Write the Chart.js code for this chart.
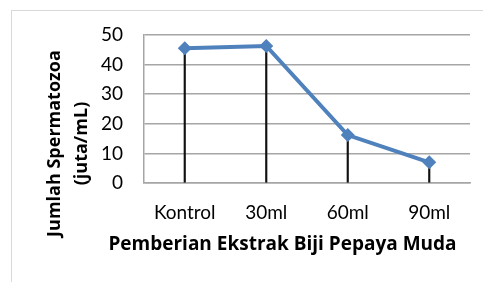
<!DOCTYPE html>
<html>
<head>
<meta charset="utf-8">
<script src="https://cdn.jsdelivr.net/npm/chart.js@4"></script>
<style>
  html, body { margin: 0; padding: 0; background: #fff; }
  #wrap { position: relative; width: 483px; height: 282px; overflow: hidden; }
  #frame { position: absolute; left: 11px; top: 10px; width: 600px; height: 400px;
           border-left: 1px solid #d9d9d9; border-top: 1px solid #d9d9d9; }
  #c { position: absolute; left: 0; top: 0; }
</style>
</head>
<body>
<div id="wrap">
  <div id="frame"></div>
  <canvas id="c" width="483" height="282"></canvas>
</div>
<script>
// Data
const categories = ["Kontrol", "30ml", "60ml", "90ml"];
const jumlahSpermatozoa = [45.5, 46.3, 16.2, 7.0];
const yMin = 0, yMax = 50, yStep = 10;
const yTitle = ["Jumlah Spermatozoa", "(juta/mL)"];
const xTitle = "Pemberian Ekstrak Biji Pepaya Muda";

const FONT = "Lato, 'Open Sans', sans-serif";
const TITLE_FONT = "'Open Sans', Lato, sans-serif";
const GRID = "#a6a6a6";
const BLUE = "#4f81bd";

// x title centred over the y axis + plot area (like the Excel original)
const xTitlePlugin = {
  id: "xTitle",
  afterDraw(chart) {
    const { ctx, chartArea, scales } = chart;
    ctx.save();
    ctx.font = "bold 19px " + TITLE_FONT;
    ctx.fillStyle = "#000";
    ctx.textAlign = "center";
    ctx.textBaseline = "alphabetic";
    ctx.fillText(xTitle, (scales.y.left + chartArea.right) / 2, scales.x.bottom - 2);
    ctx.restore();
  },
};

new Chart(document.getElementById("c").getContext("2d"), {
  type: "bar",
  data: {
    labels: categories,
    datasets: [
      // drop lines: thin black bars to the axis
      { type: "bar", data: jumlahSpermatozoa, backgroundColor: "#111", barThickness: 1.5, order: 2 },
      { type: "line", data: jumlahSpermatozoa, borderColor: BLUE, backgroundColor: BLUE,
        borderWidth: 4, pointStyle: "rectRot", pointRadius: 7, pointBorderWidth: 0,
        tension: 0, order: 1 },
    ],
  },
  options: {
    responsive: false, animation: false,
    layout: { padding: { left: 41, top: 35, right: 13, bottom: 30 } },
    plugins: {
      legend: { display: false },
      tooltip: { enabled: false },
      title: {
        display: true, position: "left", text: yTitle, color: "#000",
        padding: 0, font: { family: TITLE_FONT, size: 18, weight: "bold", lineHeight: 1.5 },
      },
    },
    scales: {
      x: {
        grid: { display: false, drawTicks: false },
        border: { color: GRID, width: 1.5 },
        ticks: { color: "#000", padding: 18, font: { family: FONT, size: 19 } },
        afterFit: (s) => { s.height = 69; },
      },
      y: {
        min: yMin, max: yMax,
        grid: { color: GRID, lineWidth: 1.5, drawTicks: false },
        border: { color: GRID, width: 1.5 },
        ticks: { stepSize: yStep, color: "#000", padding: 21, font: { family: FONT, size: 19 } },
        afterFit: (s) => { s.width = 49; },
      },
    },
  },
  plugins: [xTitlePlugin],
});
</script>
</body>
</html>
